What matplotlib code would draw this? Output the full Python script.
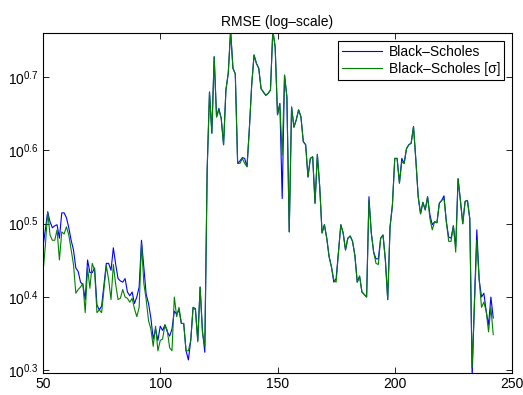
import matplotlib
matplotlib.use('Agg')
import matplotlib.pyplot as plt
from matplotlib.ticker import FixedLocator, NullLocator

plt.rcParams['font.family'] = ['Liberation Sans', 'DejaVu Sans']
plt.rcParams['mathtext.fontset'] = 'custom'
plt.rcParams['mathtext.rm'] = 'Liberation Sans'
plt.rcParams['mathtext.it'] = 'Liberation Sans'

# day index of each point
days = list(range(50, 243))

# RMSE, Black-Scholes
bs = [2.94, 3.10, 3.28, 3.18, 3.12, 3.14, 3.15, 3.02, 3.27, 3.27,
      3.22, 3.12, 3.00, 2.91, 2.75, 2.72, 2.63, 2.61, 2.49, 2.82,
      2.71, 2.71, 2.75, 2.45, 2.41, 2.44, 2.61, 2.79, 2.79, 2.73,
      2.93, 2.78, 2.66, 2.64, 2.63, 2.66, 2.55, 2.52, 2.55, 2.46,
      2.51, 2.59, 3.00, 2.76, 2.53, 2.46, 2.35, 2.20, 2.27, 2.19,
      2.29, 2.26, 2.30, 2.25, 2.22, 2.27, 2.40, 2.38, 2.41, 2.31,
      2.31, 2.12, 2.06, 2.19, 2.43, 2.42, 2.19, 2.59, 2.26, 2.11,
      3.74, 4.78, 4.20, 5.34, 4.42, 4.54, 4.40, 4.05, 4.81, 5.07,
      5.80, 5.15, 5.06, 3.82, 3.85, 3.89, 3.88, 3.78, 4.26, 4.89,
      5.37, 5.23, 5.15, 4.83, 4.78, 4.73, 4.76, 4.81, 5.80, 5.51,
      4.45, 4.61, 3.42, 5.04, 4.71, 3.08, 4.56, 4.28, 4.38, 4.52,
      4.42, 4.09, 4.05, 3.66, 3.88, 3.90, 3.37, 3.93, 3.55, 3.07,
      3.15, 3.02, 2.85, 2.76, 2.63, 2.66, 2.89, 3.15, 3.07, 2.91,
      3.02, 3.04, 2.99, 2.86, 2.63, 2.68, 2.55, 2.53, 2.51, 3.44,
      3.07, 2.89, 2.83, 2.83, 3.02, 3.05, 2.82, 2.49, 3.13, 3.35,
      3.88, 3.88, 3.59, 3.88, 3.82, 4.00, 4.05, 4.07, 4.29, 3.86,
      3.44, 3.26, 3.38, 3.30, 3.44, 3.25, 3.15, 3.18, 3.17, 3.37,
      3.40, 3.45, 3.18, 3.03, 3.02, 3.14, 2.94, 3.64, 3.40, 3.16,
      3.39, 3.40, 3.21, 1.95, 2.49, 3.10, 2.65, 2.51, 2.54, 2.40,
      2.30, 2.51, 2.35]

# RMSE, Black-Scholes [sigma]
bs_sigma = [2.71, 2.95, 3.28, 3.05, 3.00, 3.00, 3.10, 2.82, 3.08, 3.06,
            3.13, 3.05, 2.91, 2.78, 2.54, 2.57, 2.59, 2.62, 2.39, 2.75,
            2.58, 2.79, 2.73, 2.39, 2.41, 2.39, 2.57, 2.77, 2.65, 2.49,
            2.78, 2.61, 2.49, 2.50, 2.57, 2.51, 2.50, 2.47, 2.50, 2.42,
            2.36, 2.43, 2.97, 2.62, 2.49, 2.33, 2.27, 2.15, 2.29, 2.12,
            2.19, 2.20, 2.30, 2.26, 2.14, 2.12, 2.51, 2.36, 2.43, 2.31,
            2.31, 2.12, 2.12, 2.19, 2.43, 2.41, 2.18, 2.59, 2.24, 2.15,
            3.74, 4.78, 4.20, 5.34, 4.42, 4.52, 4.40, 4.05, 4.81, 5.07,
            5.80, 5.15, 5.06, 3.82, 3.82, 3.88, 3.82, 3.78, 4.26, 4.89,
            5.37, 5.23, 5.15, 4.83, 4.78, 4.73, 4.76, 4.81, 5.80, 5.51,
            4.45, 4.61, 3.92, 5.04, 4.71, 3.08, 4.56, 4.28, 4.38, 4.52,
            4.42, 4.09, 4.05, 3.66, 3.88, 3.90, 3.37, 3.93, 3.55, 3.07,
            3.15, 3.02, 2.85, 2.76, 2.65, 2.63, 2.89, 3.15, 3.07, 2.91,
            3.02, 3.04, 2.99, 2.86, 2.63, 2.68, 2.55, 2.53, 2.51, 3.40,
            3.07, 2.89, 2.79, 2.78, 3.02, 3.05, 2.82, 2.49, 3.13, 3.35,
            3.88, 3.88, 3.59, 3.84, 3.82, 4.00, 4.05, 4.07, 4.29, 3.86,
            3.44, 3.26, 3.38, 3.30, 3.44, 3.21, 3.10, 3.18, 3.17, 3.37,
            3.40, 3.42, 3.18, 2.99, 2.99, 3.14, 2.89, 3.64, 3.40, 3.16,
            3.39, 3.40, 3.21, 2.01, 2.45, 3.00, 2.65, 2.43, 2.47, 2.40,
            2.25, 2.43, 2.23]

xticks = [50, 100, 150, 200, 250]
yticks = [10 ** 0.3, 10 ** 0.4, 10 ** 0.5, 10 ** 0.6, 10 ** 0.7]
ytick_labels = [r'$10^{0.3}$', r'$10^{0.4}$', r'$10^{0.5}$', r'$10^{0.6}$', r'$10^{0.7}$']

fig = plt.figure(figsize=(5.23, 3.95), dpi=100, facecolor='w')
ax = fig.add_axes([43 / 523, 1 - 373 / 395, 469 / 523, 340 / 395])

ax.plot(days, bs, color=(0, 0, 1), linewidth=0.8, label='Black–Scholes')
ax.plot(days, bs_sigma, color=(0, 0.5, 0), linewidth=0.8, label='Black–Scholes [σ]')

ax.set_yscale('log')
ax.set_xlim(50, 250)
ax.set_ylim(1.977, 5.754)
ax.xaxis.set_major_locator(FixedLocator(xticks))
ax.set_xticklabels([str(t) for t in xticks])
ax.yaxis.set_major_locator(FixedLocator(yticks))
ax.yaxis.set_minor_locator(NullLocator())
ax.set_yticklabels(ytick_labels)

ax.tick_params(direction='in', length=4, width=0.6, top=True, right=True,
               labelsize=10, colors='k', pad=3)
ax.tick_params(which='minor', length=0)
for s in ax.spines.values():
    s.set_linewidth(0.8)
    s.set_color('k')

ax.set_title('RMSE (log–scale)', fontsize=10, pad=5)

leg = ax.legend(loc='upper right', fontsize=10, fancybox=False, framealpha=1,
                edgecolor='k', handlelength=2.9, handletextpad=0.45,
                borderaxespad=0.55, borderpad=0.3, labelspacing=0.25)
leg.get_frame().set_linewidth(0.8)

fig.savefig('out.png', dpi=100)
